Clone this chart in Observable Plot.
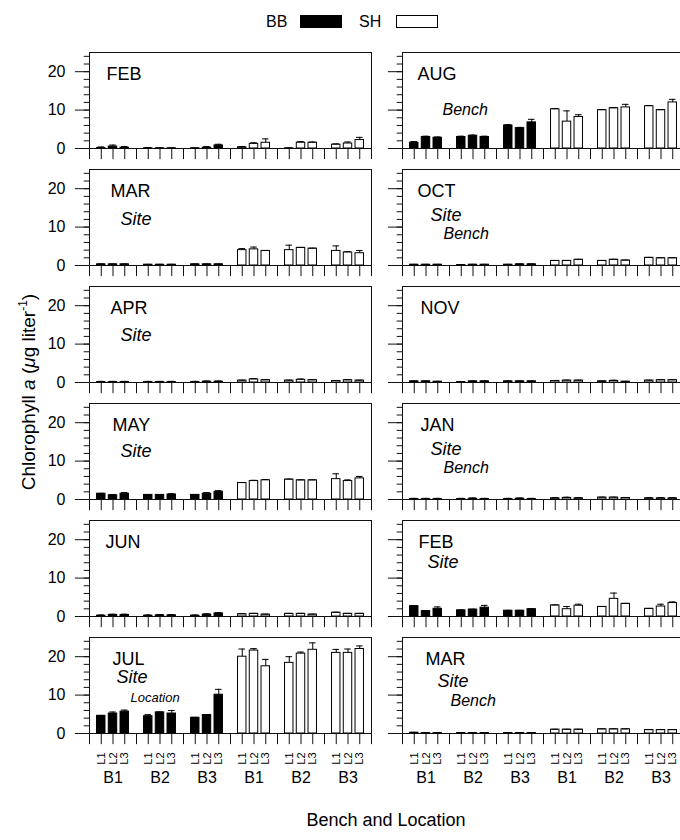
<!DOCTYPE html>
<html>
<head>
<meta charset="utf-8">
<script src="https://cdn.jsdelivr.net/npm/d3@7"></script>
<script src="https://cdn.jsdelivr.net/npm/@observablehq/plot@0.6"></script>
<style>
  html, body { margin: 0; padding: 0; background: #fff; overflow: hidden; }
  #wrap { position: relative; width: 680px; height: 840px; overflow: hidden;
          font-family: "Liberation Sans", Arial, Helvetica, sans-serif; color: #000; }
  #legend { position: absolute; left: 0; top: 0; width: 680px; height: 40px; }
  #legend .t { position: absolute; font-size: 16px; line-height: 16px; top: 14px; }
  #legend .sw { position: absolute; top: 15px; width: 42px; height: 13px; box-sizing: border-box; border: 1px solid #000; }
  #chart, #overlay, #ticks { position: absolute; left: 0; top: 40px; }
  #overlay, #ticks { pointer-events: none; }
  #chart svg, #overlay svg, #ticks svg { max-width: none !important; }
  #ylab { position: absolute; left: 28px; top: 392px; transform: translate(-50%, -50%) rotate(-90deg);
          white-space: nowrap; font-size: 19px; }
  #xlab { position: absolute; left: 386px; top: 820px; transform: translate(-50%, -50%);
          white-space: nowrap; font-size: 18px; }
</style>
</head>
<body>
<div id="wrap">
  <div id="legend">
    <span class="t" style="left:266px">BB</span>
    <span class="sw" style="left:300px;background:#000"></span>
    <span class="t" style="left:359px">SH</span>
    <span class="sw" style="left:396px;background:#fff"></span>
  </div>
  <div id="chart"></div>
  <div id="ticks"></div>
  <div id="overlay"></div>
  <div id="ylab">Chlorophyll <i>a</i> (<i>μ</i>g liter<sup style="font-size:12px">-1</sup>)</div>
  <div id="xlab">Bench and Location</div>
</div>
<script>
// ---- categories ----
const sites = ["BB", "SH"];
const benches = ["B1", "B2", "B3"];
const locations = ["L1", "L2", "L3"];
const leftMonths = ["FEB", "MAR", "APR", "MAY", "JUN", "JUL"];
const rightMonths = ["AUG", "OCT", "NOV", "JAN", "FEB", "MAR"];
const yMajorTicks = [0, 10, 20];
const yMinorTicks = [0, 2, 4, 6, 8, 10, 12, 14, 16, 18, 20, 22, 24];

// ---- values: order BB B1(L1..L3) B2 B3, then SH B1 B2 B3 ----
const febAMean = [0.1,0.5,0.2, 0.05,0.05,0.05, 0.05,0.2,0.8,  0.3,1.2,1.5, 0.05,1.5,1.5, 1.0,1.3,2.2];
const febAErr  = [0.3,0.4,0.3, 0.2,0.1,0.1,   0.1,0.3,0.3,   0.2,0.3,1.0, 0.1,0.3,0.2,  0.2,0.4,0.7];
const marAMean = [0.3,0.3,0.3, 0.2,0.2,0.2, 0.3,0.3,0.3,  4.0,4.2,3.8, 4.0,4.6,4.4, 3.8,3.4,3.2];
const marAErr  = [0.1,0.1,0.1, 0.1,0.1,0.1, 0.1,0.1,0.1,  0.4,0.6,0.1, 1.3,0.1,0.1, 1.3,0.2,0.7];
const aprMean  = [0.1,0.1,0.1, 0.1,0.1,0.1, 0.1,0.2,0.2,  0.5,0.8,0.6, 0.5,0.7,0.6, 0.4,0.6,0.5];
const aprErr   = [0.2,0.2,0.2, 0.2,0.2,0.2, 0.2,0.2,0.2,  0.1,0.2,0.1, 0.1,0.2,0.1, 0.1,0.1,0.1];
const mayMean  = [1.5,1.1,1.5, 1.2,1.2,1.3, 1.2,1.5,2.0,  4.3,4.8,5.0, 5.2,5.0,5.0, 5.3,4.8,5.5];
const mayErr   = [0.1,0.2,0.3, 0.1,0.1,0.2, 0.1,0.3,0.3,  0.1,0.2,0.2, 0.1,0.1,0.1, 1.4,0.3,0.5];
const junMean  = [0.2,0.4,0.4, 0.2,0.3,0.3, 0.2,0.5,0.8,  0.6,0.7,0.5, 0.7,0.7,0.5, 1.0,0.7,0.7];
const junErr   = [0.2,0.2,0.2, 0.2,0.2,0.2, 0.2,0.2,0.2,  0.1,0.1,0.1, 0.1,0.1,0.1, 0.1,0.1,0.1];
const julMean  = [4.6,5.2,5.7, 4.5,5.5,5.2, 4.1,4.8,10.1, 20.0,21.6,17.5, 18.4,20.8,21.8, 21.0,21.0,22.0];
const julErr   = [0.1,0.4,0.4, 0.4,0.1,0.8, 0.1,0.1,1.4,  2.0,0.5,1.8,    1.6,0.4,1.8,    0.9,1.0,0.8];
const augMean  = [1.5,3.0,2.8, 3.0,3.3,3.0, 6.0,5.3,6.8,  10.2,7.0,8.2, 10.0,10.5,10.7, 11.0,10.0,12.0];
const augErr   = [0.3,0.2,0.2, 0.2,0.2,0.2, 0.2,0.2,0.8,  0.2,2.8,0.6,  0.1,0.1,0.8,    0.2,0.1,0.8];
const octMean  = [0.2,0.2,0.2, 0.1,0.2,0.2, 0.2,0.3,0.3,  1.2,1.2,1.5, 1.2,1.5,1.3, 2.0,1.9,1.9];
const octErr   = [0.1,0.1,0.1, 0.1,0.1,0.1, 0.1,0.1,0.1,  0.1,0.1,0.1, 0.1,0.1,0.1, 0.1,0.1,0.1];
const novMean  = [0.3,0.3,0.2, 0.1,0.3,0.3, 0.3,0.3,0.3,  0.4,0.5,0.5, 0.3,0.4,0.2, 0.5,0.6,0.6];
const novErr   = [0.1,0.1,0.1, 0.1,0.1,0.1, 0.1,0.1,0.1,  0.1,0.1,0.1, 0.1,0.2,0.1, 0.1,0.1,0.1];
const janMean  = [0.1,0.1,0.1, 0.1,0.2,0.1, 0.1,0.2,0.1,  0.3,0.4,0.3, 0.5,0.5,0.4, 0.3,0.3,0.3];
const janErr   = [0.2,0.2,0.2, 0.2,0.2,0.2, 0.2,0.2,0.2,  0.2,0.2,0.2, 0.1,0.1,0.1, 0.2,0.2,0.2];
const febBMean = [2.7,1.4,2.0, 1.6,1.8,2.3, 1.5,1.5,1.9,  2.9,1.9,2.8, 2.5,4.6,3.3, 2.0,2.6,3.5];
const febBErr  = [0.1,0.1,0.5, 0.1,0.1,0.6, 0.1,0.1,0.1,  0.1,0.7,0.4, 0.1,1.5,0.1, 0.1,0.6,0.3];
const marBMean = [0.2,0.1,0.1, 0.1,0.1,0.1, 0.1,0.1,0.1,  1.0,1.0,1.0, 1.1,1.1,1.1, 0.9,0.9,0.9];
const marBErr  = [0.1,0.1,0.1, 0.1,0.1,0.1, 0.1,0.1,0.1,  0.1,0.1,0.1, 0.1,0.1,0.1, 0.1,0.1,0.1];

const leftMeans  = [febAMean, marAMean, aprMean, mayMean, junMean, julMean];
const leftErrs   = [febAErr, marAErr, aprErr, mayErr, junErr, julErr];
const rightMeans = [augMean, octMean, novMean, janMean, febBMean, marBMean];
const rightErrs  = [augErr, octErr, novErr, janErr, febBErr, marBErr];

// significance notes (panel col,row + text)
const noteText = [
  {col: 1, row: 0, text: "Bench"},
  {col: 0, row: 1, text: "Site"},
  {col: 1, row: 1, text: "Site"}, {col: 1, row: 1, text: "Bench"},
  {col: 0, row: 2, text: "Site"},
  {col: 0, row: 3, text: "Site"},
  {col: 1, row: 3, text: "Site"}, {col: 1, row: 3, text: "Bench"},
  {col: 1, row: 4, text: "Site"},
  {col: 0, row: 5, text: "Site"}, {col: 0, row: 5, text: "Location"},
  {col: 1, row: 5, text: "Site"}, {col: 1, row: 5, text: "Bench"}
];
// layout of the notes (offsets from panel top-left, font size)
const noteLayout = [
  [40, 62, 16],
  [31, 55, 18],
  [28, 51, 18], [41, 69, 16],
  [31, 54, 18],
  [31, 53, 18],
  [28, 51, 18], [41, 69, 16],
  [25, 47, 18],
  [27, 45, 18], [41, 64, 13],
  [35, 49, 18], [48, 68, 16]
];
const monthDx = [[17, 21, 21, 23, 16, 23], [15, 15, 18, 18, 16, 23]];

// tick lengths expressed in scale units (styling)
const xTickDepth = -2.9;   // y units below the zero line
const yMajorLen = -1.2;    // slot units left of the frame
const yMinorLen = -0.45;

// ---- build tables ----
const data = [], panels = [], xTicks = [], yMajor = [], yMinor = [];
[leftMonths, rightMonths].forEach((months, col) => {
  months.forEach((m, row) => {
    panels.push({col, row, month: m});
    d3.range(0, 25).forEach(s => xTicks.push({col, row, slot: s}));
    yMajorTicks.forEach(v => yMajor.push({col, row, v}));
    yMinorTicks.forEach(v => yMinor.push({col, row, v}));
    const mean = (col === 0 ? leftMeans : rightMeans)[row];
    const err = (col === 0 ? leftErrs : rightErrs)[row];
    mean.forEach((v, i) => {
      const s = Math.floor(i / 9), b = Math.floor(i / 3) % 3, l = i % 3;
      data.push({col, row, site: sites[s], slot: (s * 3 + b) * 4 + l + 1, mean: v, top: v + err[i]});
    });
  });
});
const locTicks = [], benchTicks = [];
[0, 1].forEach(col => d3.range(6).forEach(g => {
  benchTicks.push({col, row: 5, slot: g * 4 + 2, text: benches[g % 3]});
  locations.forEach((L, l) => locTicks.push({col, row: 5, slot: g * 4 + l + 1, text: L}));
}));

const layout = {
  width: 690, height: 760, marginLeft: 89, marginRight: 6, marginTop: 10.5, marginBottom: 66,
  fx: {domain: [0, 1], padding: 0.1, axis: null},
  fy: {domain: [0, 1, 2, 3, 4, 5], padding: 0.183, axis: null},
  x: {domain: [0, 24], axis: null},
  y: {domain: [0, 25], axis: null},
  color: {type: "identity"}
};
function mount(plot, id) {
  plot.style.maxWidth = "none";
  document.getElementById(id).appendChild(plot);
}

// main plot: frames, axis labels, bars, error stems, month labels, location labels
const monthMarks = panels.map(p => Plot.text([p], {
  fx: "col", fy: "row", text: "month", frameAnchor: "top-left",
  dx: monthDx[p.col][p.row], dy: 27, lineAnchor: "bottom", fontSize: 18
}));
mount(Plot.plot({
  ...layout,
  style: {fontFamily: "Liberation Sans", color: "#000", background: "#fff", overflow: "visible"},
  marks: [
    Plot.frame({stroke: "#111", strokeWidth: 1}),
    Plot.axisY({ticks: yMajorTicks, tickSize: 0, tickPadding: 24, fontSize: 16, label: null}),
    Plot.rectY(data, {fx: "col", fy: "row", x1: d => d.slot - 0.36, x2: d => d.slot + 0.36,
                      y1: 0, y2: "mean", fill: d => d.site === "BB" ? "#000" : "#fff", stroke: "#000"}),
    Plot.ruleX(data, {fx: "col", fy: "row", x: "slot", y1: "mean", y2: "top", stroke: "#000"}),
    ...monthMarks,
    Plot.text(locTicks, {fx: "col", fy: "row", x: "slot", y: 0, text: "text", rotate: -90, dy: 25, fontSize: 11})
  ]
}), "chart");

// tick-mark layer (same scales/layout, transparent)
mount(Plot.plot({
  ...layout,
  style: {background: "transparent", overflow: "visible"},
  marks: [
    Plot.ruleX(xTicks, {fx: "col", fy: "row", x: "slot", y1: xTickDepth, y2: 0, stroke: "#111"}),
    Plot.ruleY(yMajor, {fx: "col", fy: "row", y: "v", x1: yMajorLen, x2: 0, stroke: "#111"}),
    Plot.ruleY(yMinor, {fx: "col", fy: "row", y: "v", x1: yMinorLen, x2: 0, stroke: "#111"})
  ]
}), "ticks");

// overlay plot (same scales/layout, transparent): error caps, significance notes, bench labels
const noteMarks = noteText.map((n, i) => Plot.text([n], {
  fx: "col", fy: "row", text: "text", frameAnchor: "top-left",
  dx: noteLayout[i][0], dy: noteLayout[i][1], fontSize: noteLayout[i][2],
  lineAnchor: "bottom", fontStyle: "italic"
}));
mount(Plot.plot({
  ...layout,
  style: {fontFamily: "Liberation Sans", color: "#000", background: "transparent", overflow: "visible"},
  marks: [
    Plot.ruleY(data, {fx: "col", fy: "row", y: "top", x1: d => d.slot - 0.28, x2: d => d.slot + 0.28, stroke: "#000"}),
    ...noteMarks,
    Plot.text(benchTicks, {fx: "col", fy: "row", x: "slot", y: 0, text: "text", dy: 44, fontSize: 16})
  ]
}), "overlay");
</script>
</body>
</html>
